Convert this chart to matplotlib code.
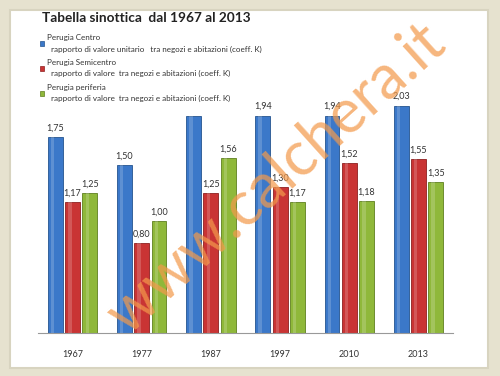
import numpy as np
import matplotlib.pyplot as plt
from matplotlib.patches import Rectangle

# data
years = ['1967', '1977', '1987', '1997', '2010', '2013']
centro = [1.75, 1.50, 1.94, 1.94, 1.94, 2.03]
semicentro = [1.17, 0.80, 1.25, 1.30, 1.52, 1.55]
periferia = [1.25, 1.00, 1.56, 1.17, 1.18, 1.35]
series_names = ['Perugia Centro\n  rapporto di valore unitario   tra negozi e abitazioni (coeff. K)',
                'Perugia Semicentro\n  rapporto di valore  tra negozi e abitazioni (coeff. K)',
                'Perugia periferia\n  rapporto di valore  tra negozi e abitazioni (coeff. K)']
# label of 1987 Centro sits under the legend box in the original
hidden_labels = [('centro', '1987')]
colors = ['#3b78c9', '#c93434', '#8fb83a']
edges = ['#24548f', '#8e2020', '#5f7f1f']

plt.rcParams['font.family'] = ['Lato', 'DejaVu Sans']

fig = plt.figure(figsize=(5.0, 3.76), dpi=100)
fig.patch.set_facecolor('#e6e2cf')

# white slide behind everything
W, H = 500.0, 376.0
slide = Rectangle((10 / W, 8 / H), 478 / W, 358 / H, transform=fig.transFigure,
                  facecolor='white', edgecolor='#d8d4c0', linewidth=1.5, zorder=-5)
fig.patches.append(slide)

ax = fig.add_axes([38 / W, 43 / H, 415 / W, 0.77 - 43 / H])
ax.set_facecolor('none')
ax.set_zorder(1)

x = np.arange(len(years))
w = 0.215
step = 0.25
keys = ['centro', 'semicentro', 'periferia']
for i, (vals, c, ec) in enumerate(zip([centro, semicentro, periferia], colors, edges)):
    pos = x + (i - 1) * step
    bars = ax.bar(pos, vals, width=w, color=c, edgecolor=ec, linewidth=0.6, zorder=2)
    # lighter highlight strip for the glossy look
    ax.bar(pos - w * 0.18, vals, width=w * 0.22, color='white', alpha=0.18,
           linewidth=0, zorder=3)
    for b, v, yr in zip(bars, vals, years):
        if (keys[i], yr) in hidden_labels:
            continue
        ax.text(b.get_x() + b.get_width() / 2, v + 0.04, ('%.2f' % v).replace('.', ','),
                ha='center', va='bottom', fontsize=6.5, color='#333333', zorder=4)

ax.set_xlim(-0.5, len(years) - 0.5)
ax.set_ylim(0, 2.2)
ax.set_xticks(x)
ax.set_xticklabels(years, fontsize=6.5, color='#333333')
ax.tick_params(axis='x', length=0, pad=12)
ax.set_yticks([])
for s in ['top', 'right', 'left']:
    ax.spines[s].set_visible(False)
ax.spines['bottom'].set_color('#999999')
ax.spines['bottom'].set_linewidth(0.8)

handles = [Rectangle((0, 0), 1, 1, facecolor=c, edgecolor=ec, linewidth=0.5)
           for c, ec in zip(colors, edges)]
leg = ax.legend(handles, series_names, loc='upper left',
                bbox_to_anchor=(34 / W, 1 - 28 / H), bbox_transform=fig.transFigure,
                fontsize=5.8, frameon=False, handlelength=0.5, handleheight=0.5,
                handletextpad=0.3, labelspacing=0.85, borderpad=0.3)
leg.set_zorder(10)
for t in leg.get_texts():
    t.set_color('#333333')
    t.set_linespacing(1.65)

fig.text(42 / W, 1 - 18 / H, 'Tabella sinottica  dal 1967 al 2013', fontsize=9.8,
         fontweight='bold', ha='left', va='center', color='#222222', zorder=11)

# watermark
fig.text(276 / W, 1 - 178 / H, 'www.calchera.it', fontsize=44, rotation=42,
         ha='center', va='center', color='#f39a4c', alpha=0.72,
         zorder=20)

fig.savefig('out.png', dpi=100, facecolor=fig.get_facecolor())
